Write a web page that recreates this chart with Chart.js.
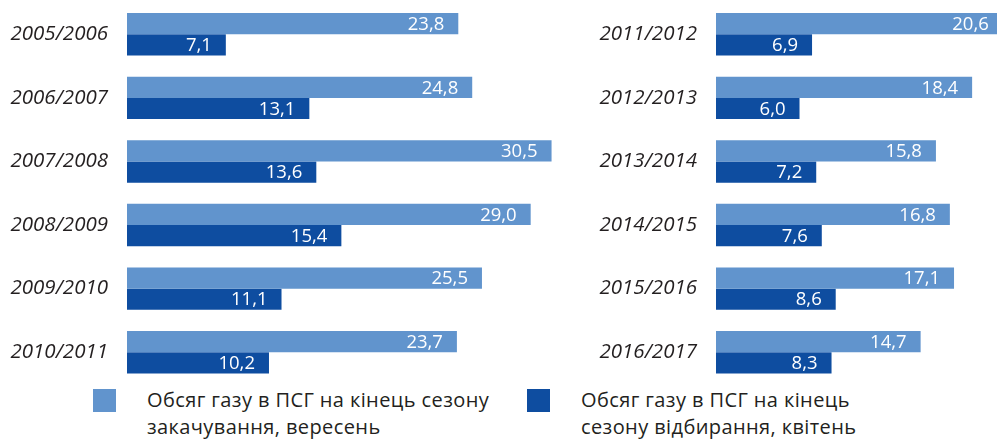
<!DOCTYPE html>
<html lang="uk">
<head>
<meta charset="utf-8">
<script src="https://cdn.jsdelivr.net/npm/chart.js@4.4.1/dist/chart.umd.min.js"></script>
<style>
  html, body { margin: 0; padding: 0; background: #ffffff; }
  #wrap { position: relative; width: 997px; height: 439px; overflow: hidden; }
  #left { position: absolute; left: 0; top: 0; }
  #right { position: absolute; left: 580px; top: 0; }
  .legend { position: absolute; top: 389px; font-family: "Open Sans", sans-serif; font-size: 20px;
            line-height: 27px; color: #231f20; letter-spacing: 0.4px; }
  .legend .sw { position: absolute; left: 0; top: 0; width: 23px; height: 23px; }
  .legend .tx { position: absolute; left: 54px; top: -3px; white-space: nowrap; }
</style>
</head>
<body>
<div id="wrap">
  <canvas id="left" width="580" height="384"></canvas>
  <canvas id="right" width="417" height="384"></canvas>
  <div class="legend" id="lg1" style="left:93px"><div class="sw"></div><div class="tx"></div></div>
  <div class="legend" id="lg2" style="left:527px"><div class="sw"></div><div class="tx"></div></div>
</div>
<script>
// Gas storage seasons, bcm
const seasonsLeft = ['2005/2006', '2006/2007', '2007/2008', '2008/2009', '2009/2010', '2010/2011'];
const injectionLeft = [23.8, 24.8, 30.5, 29.0, 25.5, 23.7];
const withdrawalLeft = [7.1, 13.1, 13.6, 15.4, 11.1, 10.2];

const seasonsRight = ['2011/2012', '2012/2013', '2013/2014', '2014/2015', '2015/2016', '2016/2017'];
const injectionRight = [20.6, 18.4, 15.8, 16.8, 17.1, 14.7];
const withdrawalRight = [6.9, 6.0, 7.2, 7.6, 8.6, 8.3];

const seriesNames = [
  ['Обсяг газу в ПСГ на кінець сезону', 'закачування, вересень'],
  ['Обсяг газу в ПСГ на кінець', 'сезону відбирання, квітень']
];
const LIGHT = '#6194cd';
const DARK = '#0e4da0';

// Value labels written in white near the end of each bar
const barValueLabels = {
  id: 'barValueLabels',
  afterDatasetsDraw(chart) {
    const ctx = chart.ctx;
    ctx.save();
    ctx.font = '18.5px "Open Sans", sans-serif';
    ctx.fillStyle = '#ffffff';
    ctx.textAlign = 'right';
    ctx.textBaseline = 'middle';
    chart.data.datasets.forEach((ds, di) => {
      chart.getDatasetMeta(di).data.forEach((bar, i) => {
        const txt = ds.data[i].toFixed(1).replace('.', ',');
        ctx.fillText(txt, bar.x - 14, bar.y + 1);
      });
    });
    ctx.restore();
  }
};

function makeChart(id, labels, inj, wdr, axisWidth, xMax) {
  return new Chart(document.getElementById(id), {
    type: 'bar',
    data: {
      labels: labels,
      datasets: [
        { label: seriesNames[0].join(' '), data: inj, backgroundColor: LIGHT, borderWidth: 0 },
        { label: seriesNames[1].join(' '), data: wdr, backgroundColor: DARK, borderWidth: 0 }
      ]
    },
    options: {
      indexAxis: 'y',
      responsive: false,
      animation: false,
      layout: { padding: { top: 2.5, bottom: 0, left: 0, right: 0 } },
      datasets: { bar: { categoryPercentage: 42 / 63, barPercentage: 1 } },
      plugins: { legend: { display: false }, tooltip: { enabled: false } },
      scales: {
        x: { min: 0, max: xMax, display: false, grid: { display: false } },
        y: {
          grid: { display: false },
          border: { display: false },
          ticks: {
            padding: 11,
            color: '#231f20',
            font: { family: 'Open Sans', size: 20.5, style: 'italic' }
          },
          afterFit(scale) {
            scale.width = axisWidth;
            scale.paddingTop = 0;
            scale.paddingBottom = 0;
          }
        }
      }
    },
    plugins: [barValueLabels]
  });
}

makeChart('left', seasonsLeft, injectionLeft, withdrawalLeft, 127, 453 / 13.92);
makeChart('right', seasonsRight, injectionRight, withdrawalRight, 136, 281 / 13.92);

// Two-line legend below the bars
[['lg1', LIGHT, seriesNames[0]], ['lg2', DARK, seriesNames[1]]].forEach(([id, col, lines]) => {
  const el = document.getElementById(id);
  el.querySelector('.sw').style.background = col;
  el.querySelector('.tx').innerHTML = lines.join('<br>');
});
</script>
</body>
</html>
